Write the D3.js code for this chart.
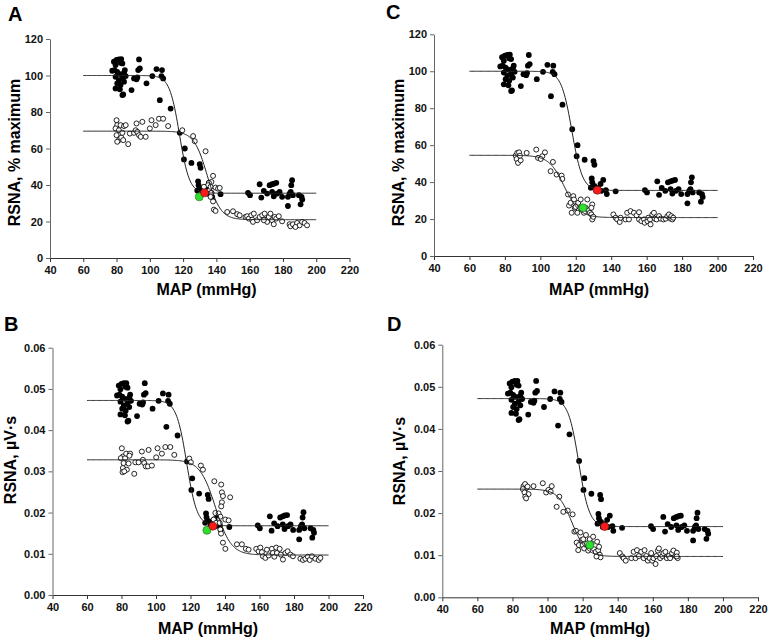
<!DOCTYPE html>
<html><head><meta charset="utf-8">
<script src="https://cdn.jsdelivr.net/npm/d3@7/dist/d3.min.js"></script>
<style>
body{margin:0;background:#fff;}
svg{display:block;font-family:"Liberation Sans",Arial,sans-serif;}
.tick text{font-weight:bold;font-size:11px;fill:#111;}
</style></head>
<body><svg id="c" width="768" height="644"></svg>
<script>
// ---------- DATA ----------
const xTicks = [40,60,80,100,120,140,160,180,200,220];
const pctTicks = [0,20,40,60,80,100,120];
const uvTicks = [0,0.01,0.02,0.03,0.04,0.05,0.06];

// closed circles (shared by A/C in %max and B/D in µV·s)
const closedMAP = [77.4,78.4,80.0,81.4,82.8,79.4,82.4,83.5,78.8,80.4,82.0,84.5,79.4,81.4,83.5,80.4,82.4,84.5,79.4,82.0,84.0,83.5,85.5,85.0,89.0,90.5,92.5,93.5,93.0,94.0,92.0,98.0,101.5,104.0,107.3,107.0,108.0,106.0,112.5,118.0,121.0,120.5,125.0,130.0,130.5,129.0,129.3,130.5,132.5,134.0,135.5,137.0,137.5,142.5,128.5,131.5,134.5,159.0,160.2,166.0,167.0,168.5,170.5,172.0,173.5,174.7,176.0,173.5,174.5,176.5,178.0,179.5,183.0,183.0,184.7,185.5,185.0,186.0,184.0,190.6,191.2,191.6,189.6];
const closedPct = [102.6,107.6,108.5,108.8,109.0,105.7,107.0,106.6,103.0,102.0,100.8,101.5,99.3,97.5,98.4,95.7,94.8,96.6,92.9,92.4,89.6,89.3,99.7,103.0,92.0,98.4,99.0,108.8,103.0,103.9,97.9,95.7,99.7,103.5,103.0,99.7,98.4,86.5,81.9,68.6,60.0,54.0,52.1,51.4,49.4,42.0,39.9,38.0,36.8,39.0,41.2,35.7,33.5,35.0,37.0,35.3,35.3,35.7,34.4,40.4,33.1,36.8,35.3,39.9,40.4,40.8,41.2,36.2,33.8,35.3,36.2,33.5,28.5,33.5,36.2,42.6,39.9,34.4,35.3,29.4,33.5,32.0,34.4];
const closedUV = [0.0484,0.0508,0.0512,0.0514,0.0514,0.0499,0.0505,0.0503,0.0486,0.0481,0.0476,0.0479,0.0469,0.0460,0.0464,0.0452,0.0447,0.0456,0.0438,0.0436,0.0423,0.0421,0.0471,0.0486,0.0434,0.0464,0.0467,0.0514,0.0486,0.0490,0.0462,0.0452,0.0471,0.0489,0.0486,0.0471,0.0464,0.0408,0.0387,0.0324,0.0283,0.0255,0.0246,0.0243,0.0233,0.0198,0.0188,0.0179,0.0174,0.0184,0.0194,0.0169,0.0158,0.0165,0.0175,0.0167,0.0167,0.0169,0.0162,0.0191,0.0156,0.0174,0.0167,0.0188,0.0191,0.0193,0.0194,0.0171,0.0160,0.0167,0.0171,0.0158,0.0135,0.0158,0.0171,0.0201,0.0188,0.0162,0.0167,0.0139,0.0158,0.0151,0.0162];

// open circles, panel A (% max)
const openA_MAP = [80,80.4,79.4,81.4,82.4,84.5,85.5,80,81.4,80.4,82.8,84,87,83.5,88,90.5,91.5,92,92.5,93.5,94.5,95.5,97.5,100,101,103.5,105.5,108,111,119.5,126,127,133.5,138,137,135.5,135,136.5,139.5,141,142,137,136.5,138,138.5,139.5,132.5,133.5,146.5,150,152.5,154,157.5,158.5,159.5,161,161.5,162.5,162,164.5,166,167.5,169,170,171.5,172.5,173.5,174.5,175,176,177.5,179.5,184,184.5,186,188.5,190,191.5,193,194.5,187.5,170.5,168.5];
const openA_Pct = [75.5,72.8,71,70,72.8,72.3,72.8,67.3,64.6,63.7,66,64.6,62.4,68.6,68.2,68.6,70,73.7,69.1,67.3,66.4,74.6,66.4,71,75.5,72.8,76.3,76.3,72.3,70,66.8,64,58.5,45,41.7,41.2,39.9,39,38.6,38,38.4,35.7,33.5,31,26.5,25.8,39,35.7,25.2,25.6,24,23.4,22.5,22.9,21.6,23.4,21,24.3,19.8,20.7,22.5,23.4,24.3,21,22.5,24.3,20.7,18.5,22.5,21.6,22.9,20.1,18.5,17.4,18.5,19.2,17.9,19.8,19.2,17.9,17,19.8,20.7];

// open circles, panel C (% max)
const openC_MAP = [86.1,87,88,86.6,87.4,88.9,88.5,92.3,97.7,98.7,101.1,102.6,100.2,105.8,107.1,109.2,112,112.4,115.6,116.2,117.1,117.7,118.6,119,119.4,120.5,121.4,121.8,122.8,123.3,124.6,125.6,126.5,127.5,128,128.8,129.3,129.3,129.9,128.8,120.9,119.9,141.2,142.5,143.4,144.8,145.3,148.1,149,150,150.9,152.8,154.3,155.7,155.7,157,158.5,158.9,160.4,160.9,161.9,162.2,163.2,164.1,164.5,165.6,167,167.9,169.4,170.7,171.7,172.6,173.5,173.9,174.5,175];
const openC_Pct = [54.3,55.8,56.1,52.5,50.4,51.8,54.3,55.8,57.6,53.1,54,56.1,52.5,45.9,50.9,44.1,43.5,41.7,33.3,27.3,28.8,23.4,32.4,30.6,26.1,27.3,28.8,25.2,30.6,25.5,23.4,26.1,30.6,24.8,23.4,22.5,27.9,19.8,21.2,26.1,23.4,26.6,22.5,20.7,19.8,18.4,20.7,19.8,23.4,19.8,24.3,23.4,22,23.7,19.8,18.9,19.8,18,18.9,20.7,19.8,17.1,22.5,23.4,20.2,19.8,21.6,20.2,19.8,20.2,21.6,22.5,20.2,21.6,19.8,20.7];

// open circles, panel B (µV·s)
const openB_MAP = [80.2,80.8,79.6,82.1,82.7,85,84.6,81.2,84.1,80.8,83.1,80.6,81.6,87.4,88,89.9,91.8,92.4,93.2,94.1,95.3,97.6,95.7,100.1,100.9,103.4,105.4,108.3,110.6,119.3,120.2,126,127.2,133.8,137.8,138.2,138.8,138.2,137.8,143,134.4,136.3,137.3,140.2,142.1,133.4,134.9,136.9,137.3,137.7,138.8,140.2,146.9,149.8,152.1,153.7,158.1,159.5,160.5,161.4,162,163.4,164.3,165.3,167.2,167.8,168.6,169.7,170.1,171.7,172.4,173.6,175,176.3,177.9,179.4,183.7,185.2,186.6,188,189.1,190.4,192.4,194.3,195.3];
const openB_UV = [0.0356,0.0336,0.0332,0.0332,0.0343,0.0343,0.0338,0.0320,0.0319,0.0308,0.0304,0.0298,0.0300,0.0294,0.0322,0.0322,0.0348,0.0328,0.0320,0.0312,0.0312,0.0314,0.0352,0.0334,0.0356,0.0343,0.0359,0.0359,0.0340,0.0331,0.0322,0.0314,0.0304,0.0276,0.0268,0.0249,0.0240,0.0225,0.0215,0.0237,0.0199,0.0198,0.0190,0.0183,0.0181,0.0183,0.0175,0.0175,0.0159,0.0149,0.0127,0.0112,0.0123,0.0123,0.0112,0.0110,0.0112,0.0106,0.0115,0.0104,0.0094,0.0090,0.0110,0.0096,0.0112,0.0102,0.0093,0.0115,0.0102,0.0112,0.0098,0.0086,0.0102,0.0106,0.0098,0.0094,0.0088,0.0085,0.0088,0.0093,0.0085,0.0094,0.0088,0.0085,0.0090];

// open circles, panel D (µV·s)
const openD_MAP = [86.3,87.2,87.8,85.9,88.6,86.9,89.2,87.3,87.8,92,97.3,99.2,100.5,102.4,101.8,105.2,106.7,109,111.5,114.3,115.3,116.2,116.6,117.5,117.9,118.8,119.4,120,120.4,120.9,121.9,122.6,123.2,124.1,125.1,126,126.6,127.5,128.3,128.9,129.4,129.8,130.2,127.9,141.2,142.7,143.4,144.6,147.8,149.1,150.2,151,152.1,153.4,154.8,155.3,156.3,157.2,158.2,159.1,159.7,160.4,161.6,162,162.9,163.5,164.2,165.4,166.1,167.2,168,169.1,169.9,171,171.8,172.9,173.7,174.2,173.7];
const openD_UV = [0.0264,0.0269,0.0259,0.0257,0.0263,0.0249,0.0245,0.0239,0.0235,0.0264,0.0271,0.0249,0.0255,0.0264,0.0251,0.0215,0.0239,0.0203,0.0206,0.0197,0.0156,0.0158,0.0130,0.0112,0.0124,0.0154,0.0136,0.0124,0.0138,0.0116,0.0148,0.0128,0.0111,0.0138,0.0128,0.0144,0.0114,0.0108,0.0132,0.0112,0.0120,0.0101,0.0095,0.0097,0.0105,0.0097,0.0093,0.0087,0.0093,0.0108,0.0093,0.0112,0.0098,0.0108,0.0093,0.0112,0.0098,0.0087,0.0093,0.0105,0.0087,0.0093,0.0079,0.0098,0.0111,0.0116,0.0093,0.0098,0.0105,0.0108,0.0093,0.0098,0.0093,0.0105,0.0111,0.0098,0.0106,0.0093,0.0097];

// sigmoid fit parameters [top, bottom, midpoint MAP, slope] per panel: closed, open
const fitClosedPct = [100, 35.5, 117.8, 3.0];
const fitClosedUV  = [0.0472, 0.0168, 117.8, 3.0];
const fitOpenA = [69.5, 21.0, 134.5, 4.0];
const fitOpenC = [54.5, 20.8, 113.5, 4.3];
const fitOpenB = [0.0328, 0.0097, 134.5, 4.5];
const fitOpenD = [0.0257, 0.0097, 114.0, 4.0];
const fitRange = [60, 200];

// highlighted points [MAP, value]: red (closed), green (open)
const redA = [132.9, 35.7], greenA = [129.7, 33.5];
const redC = [132.2, 35.6], greenC = [124.1, 26.1];
const redB = [133.0, 0.0167], greenB = [129.5, 0.0157];
const redD = [132.6, 0.0168], greenD = [124.1, 0.0124];

const panelLetters = ["A","C","B","D"];
const yTitles = ["RSNA, % maximum","RSNA, % maximum","RSNA, µV·s","RSNA, µV·s"];
const xTitle = "MAP (mmHg)";

// ---------- LAYOUT ----------
const panels = [
  {letter:panelLetters[0], rect:[50,349.5,39,258], ymax:120, ticks:pctTicks, fmt:d3.format("d"), yTitle:yTitles[0],
   closed:[closedMAP,closedPct], open:[openA_MAP,openA_Pct], fc:fitClosedPct, fo:fitOpenA, red:redA, green:greenA,
   lx:8, ly:21, ytx:14, yty:152.5, xtx:206.5, xty:295},
  {letter:panelLetters[1], rect:[434,753,34.3,256], ymax:120, ticks:pctTicks, fmt:d3.format("d"), yTitle:yTitles[1],
   closed:[closedMAP,closedPct], open:[openC_MAP,openC_Pct], fc:fitClosedPct, fo:fitOpenC, red:redC, green:greenC,
   lx:386, ly:19, ytx:398, yty:152.5, xtx:599, xty:295},
  {letter:panelLetters[2], rect:[52.5,363,347.7,595], ymax:0.06, ticks:uvTicks, fmt:d3.format(".2f"), yTitle:yTitles[2],
   closed:[closedMAP,closedUV], open:[openB_MAP,openB_UV], fc:fitClosedUV, fo:fitOpenB, red:redB, green:greenB,
   lx:4, ly:331, ytx:10, yty:460, xtx:208, xty:634},
  {letter:panelLetters[3], rect:[442.3,758,344.7,597.3], ymax:0.06, ticks:uvTicks, fmt:d3.format(".2f"), yTitle:yTitles[3],
   closed:[closedMAP,closedUV], open:[openD_MAP,openD_UV], fc:fitClosedUV, fo:fitOpenD, red:redD, green:greenD,
   lx:387, ly:331, ytx:399, yty:461, xtx:600, xty:634}
];

const svg = d3.select("#c");
const sig = (p, x) => p[1] + (p[0]-p[1])/(1+Math.exp((x-p[2])/p[3]));

panels.forEach(P => {
  const [L,R,T,B] = P.rect;
  const x = d3.scaleLinear().domain([40,220]).range([L,R]);
  const y = d3.scaleLinear().domain([0,P.ymax]).range([B,T]);
  const g = svg.append("g");

  // axes
  const ax = g.append("g").attr("transform",`translate(0,${B})`)
    .call(d3.axisBottom(x).tickValues(xTicks).tickSize(4).tickSizeOuter(0).tickPadding(4));
  ax.selectAll("path,line").attr("stroke","#333");
  const ay = g.append("g").attr("transform",`translate(${L},0)`)
    .call(d3.axisLeft(y).tickValues(P.ticks).tickFormat(P.fmt).tickSize(4).tickSizeOuter(0).tickPadding(3));
  ay.selectAll("path,line").attr("stroke","#666");

  // points
  const cd = d3.zip(P.closed[0], P.closed[1]);
  const od = d3.zip(P.open[0], P.open[1]);
  g.append("g").selectAll("circle").data(cd).join("circle")
    .attr("cx",d=>x(d[0])).attr("cy",d=>y(d[1])).attr("r",2.9).attr("fill","#000");
  g.append("g").selectAll("circle").data(od).join("circle")
    .attr("cx",d=>x(d[0])).attr("cy",d=>y(d[1])).attr("r",2.5)
    .attr("fill","#fff").attr("stroke","#000").attr("stroke-width",0.85);

  // fitted curves
  const xs = d3.range(fitRange[0], fitRange[1]+0.01, 0.5);
  const line = d3.line().x(d=>x(d)).curve(d3.curveLinear);
  [P.fc, P.fo].forEach(p => {
    g.append("path").attr("d", line.y(d=>y(sig(p,d)))(xs))
      .attr("fill","none").attr("stroke","#222").attr("stroke-width",1);
  });

  // highlighted points
  g.append("circle").attr("cx",x(P.green[0])).attr("cy",y(P.green[1])).attr("r",4)
    .attr("fill","#2ee02e").attr("stroke","#1a6a1a").attr("stroke-width",0.6);
  g.append("circle").attr("cx",x(P.red[0])).attr("cy",y(P.red[1])).attr("r",4)
    .attr("fill","#ff1a1a").attr("stroke","#6a1a1a").attr("stroke-width",0.6);

  // titles
  g.append("text").attr("x",P.lx).attr("y",P.ly).text(P.letter)
    .attr("font-size",20).attr("font-weight","bold");
  g.append("text").attr("transform",`translate(${P.ytx},${P.yty}) rotate(-90)`)
    .attr("text-anchor","middle").attr("dominant-baseline","central")
    .attr("font-size",16).attr("font-weight","bold").text(P.yTitle);
  g.append("text").attr("x",P.xtx).attr("y",P.xty).attr("text-anchor","middle")
    .attr("font-size",16).attr("font-weight","bold").text(xTitle);
});
</script></body></html>
